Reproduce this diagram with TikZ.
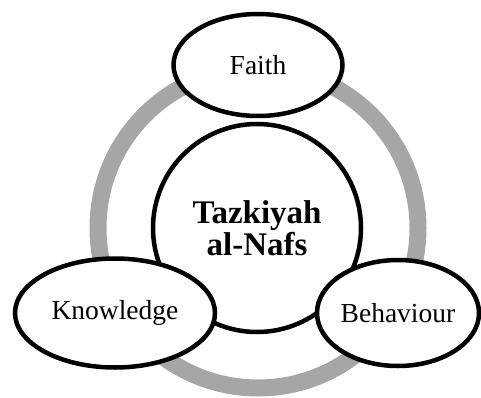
\documentclass[tikz,border=0pt]{standalone}
\usepackage{fontspec}
\setmainfont{Liberation Serif}
\usetikzlibrary{shapes.geometric}
\definecolor{ringgray}{HTML}{A6A6A6}
\tikzset{
  bubble/.style={ellipse, draw=black, line width=4.5pt, fill=white, inner sep=0pt,
    font=\fontsize{27.5}{29}\selectfont},
  hub/.style={circle, draw=black, line width=4.5pt, fill=white, inner sep=0pt,
    align=center, font=\fontsize{33}{34}\selectfont\bfseries},
  ring/.style={draw=ringgray, line width=17pt}
}
\begin{document}
\begin{tikzpicture}[x=1pt,y=-1pt]
\useasboundingbox (0,0) rectangle (481,398);
\coordinate (c) at (258,228);
\draw[ring] (c) circle[radius=160pt];
\node[hub, minimum size=208pt] (hub) at (257,228) {Tazkiyah\\[-2pt]al-Nafs};
\node[bubble, minimum width=169pt, minimum height=102pt] (faith) at (258,65) {Faith};
\node[bubble, minimum width=200pt, minimum height=109pt] (know) at (115,313) {Knowledge};
\node[bubble, minimum width=162pt, minimum height=106pt] (behav) at (398,313) {Behaviour};
\end{tikzpicture}
\end{document}
